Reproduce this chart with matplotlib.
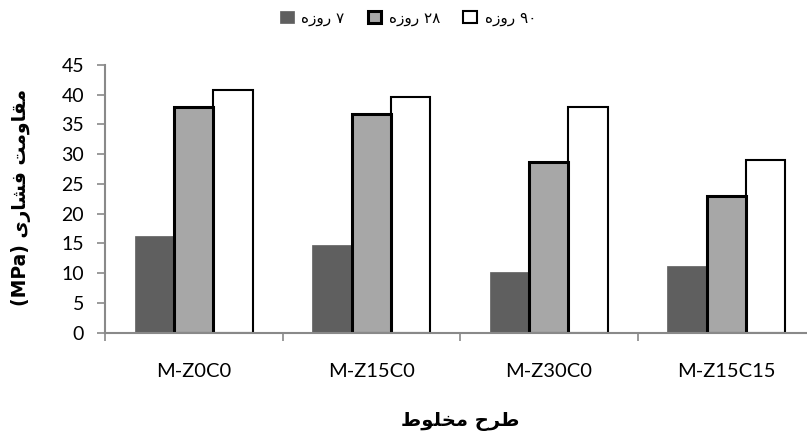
import matplotlib
matplotlib.use("Agg")
import matplotlib.pyplot as plt
from matplotlib.patches import Patch

# ── Data ──────────────────────────────────────────────────────────────────────
mixes = ["M-Z0C0", "M-Z15C0", "M-Z30C0", "M-Z15C15"]
day7  = [16.3, 14.7, 10.2, 11.2]
day28 = [38.0, 36.7, 28.7, 23.0]
day90 = [40.8, 39.7, 38.0, 29.0]

# Persian labels, written in visual (left-to-right) order with shaped glyphs
# since matplotlib does no bidi / Arabic shaping on its own.
ROOZE = "\ufee9\ufeaf\ufeed\ufead"                      # روزه
series_labels = [ROOZE + " \u06f7",                      # ۷ روزه
                 ROOZE + " \u06f2\u06f8",                # ۲۸ روزه
                 ROOZE + " \u06f9\u06f0"]                # ۹۰ روزه
ylabel_text = ("(MPa) " + "\ufeef\ufead\ufe8e\ufeb8\ufed3" + " "
               + "\ufe96\ufee3\ufeed\ufe8e\ufed8\ufee3")  # مقاومت فشاری (MPa)
xlabel_text = "\ufec1\ufeee\ufee0\ufea8\ufee3 \ufea1\ufeae\ufec3"  # طرح مخلوط

# ── Styles ────────────────────────────────────────────────────────────────────
W, H = 807, 440
AXIS_GRAY = "#898989"
styles = [
    dict(facecolor="#5f5f5f", edgecolor="#5f5f5f", linewidth=0.5),
    dict(facecolor="#a7a7a7", edgecolor="black", linewidth=2.2),
    dict(facecolor="white", edgecolor="black", linewidth=1.5),
]
plt.rcParams["font.family"] = ["Lato", "DejaVu Sans"]

fig = plt.figure(figsize=(W / 100, H / 100), dpi=100)
ax = fig.add_axes([105 / W, 1 - 332.5 / H, 710 / W, 267.5 / H])

bw = 0.222
for j, (vals, st) in enumerate(zip([day7, day28, day90], styles)):
    xs = [i + (j - 1) * bw for i in range(len(mixes))]
    ax.bar(xs, vals, width=bw, zorder=2 + (j == 1), **st)

ax.set_xlim(-0.5, len(mixes) - 0.5)
ax.set_ylim(0, 45)
ax.set_yticks(range(0, 46, 5))
ax.set_xticks(range(len(mixes)))
ax.set_xticklabels(mixes)
ax.set_xticks([i - 0.5 for i in range(len(mixes) + 1)], minor=True)

for s in ["top", "right"]:
    ax.spines[s].set_visible(False)
for s in ["left", "bottom"]:
    ax.spines[s].set_color(AXIS_GRAY)
    ax.spines[s].set_linewidth(1.5)
    ax.spines[s].set_zorder(5)

ax.tick_params(axis="y", length=6, width=1.2, color=AXIS_GRAY,
               labelsize=14, pad=9)
ax.tick_params(axis="x", which="major", length=0, labelsize=14.5, pad=22)
ax.tick_params(axis="x", which="minor", length=6, width=1.2, color=AXIS_GRAY)

# axis titles placed in figure pixels
fig.text(21 / W, 1 - 197 / H, ylabel_text, family="DejaVu Sans",
         fontweight="bold", fontsize=13.5, rotation=90,
         ha="center", va="center")
fig.text(460 / W, 1 - 421 / H, xlabel_text, family="DejaVu Sans",
         fontweight="bold", fontsize=14, ha="center", va="center")

handles = [Patch(**st) for st in styles]
fig.legend(handles, series_labels, loc="center", bbox_to_anchor=(408 / W, 1 - 18 / H),
           ncol=3, frameon=False, prop={"family": "DejaVu Sans", "size": 11},
           handlelength=0.9, handleheight=0.9, handletextpad=0.5, columnspacing=1.5)

fig.savefig("out.png", dpi=100)
